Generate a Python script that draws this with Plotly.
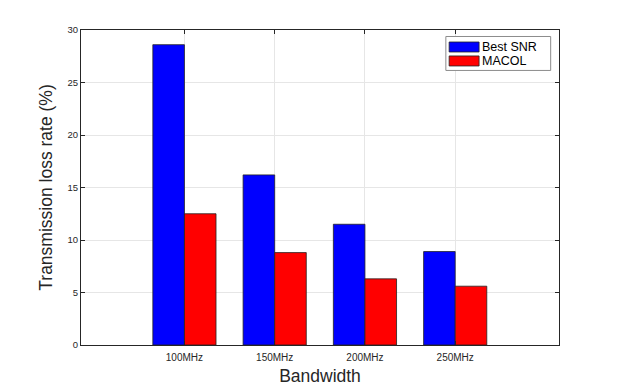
import plotly.graph_objects as go

categories = ["100MHz", "150MHz", "200MHz", "250MHz"]
best_snr = [28.6, 16.2, 11.5, 8.9]
macol = [12.5, 8.8, 6.3, 5.6]
series_names = ["Best SNR", "MACOL"]
series_colors = ["#0000ff", "#ff0000"]
y_ticks = [0, 5, 10, 15, 20, 25, 30]

xpos = list(range(1, len(categories) + 1))
axis_color = "#262626"
grid_color = "#e6e6e6"

fig = go.Figure()
for vals, name, col in zip([best_snr, macol], series_names, series_colors):
    fig.add_trace(go.Bar(x=xpos, y=vals, name=name, showlegend=False,
                         marker=dict(color=col, line=dict(color="#222222", width=0.8))))

# MATLAB-style legend box (wide colour patches)
box = dict(x0=0.7633, x1=0.9826, y0=0.8716, y1=0.9794)
fig.add_shape(type="rect", xref="paper", yref="paper", layer="above",
              fillcolor="white", line=dict(color="#8c8c8c", width=1), **box)
patch_y = [(0.9302, 0.9619), (0.8858, 0.9176)]
for (y0, y1), name, col in zip(patch_y, series_names, series_colors):
    fig.add_shape(type="rect", xref="paper", yref="paper", layer="above",
                  x0=0.7702, x1=0.8328, y0=y0, y1=y1,
                  fillcolor=col, line=dict(color="#222222", width=0.8))
    fig.add_annotation(xref="paper", yref="paper", x=0.8364, y=(y0 + y1) / 2,
                       xanchor="left", yanchor="middle", showarrow=False,
                       borderpad=0, text=name, font=dict(size=12.5, color="black"))

fig.update_layout(
    width=618, height=388,
    margin=dict(l=81, r=59, t=30, b=43),
    paper_bgcolor="white", plot_bgcolor="white",
    barmode="group", bargap=0.3, bargroupgap=0,
    font=dict(family="Liberation Sans, Arial, sans-serif", color=axis_color),
)
fig.update_xaxes(
    range=[-0.146, 5.15], tickvals=xpos, ticktext=categories,
    tickfont=dict(size=10, color=axis_color), ticklabelstandoff=3,
    showgrid=True, gridcolor=grid_color, gridwidth=1,
    showline=True, linecolor=axis_color, linewidth=1, mirror="ticks",
    ticks="inside", ticklen=4, tickcolor=axis_color, automargin=False,
    title=dict(text="Bandwidth", font=dict(size=17.5, color=axis_color), standoff=7),
    zeroline=False,
)
fig.update_yaxes(
    range=[0, 30], tickvals=y_ticks,
    tickfont=dict(size=9.5, color=axis_color),
    showgrid=True, gridcolor=grid_color, gridwidth=1,
    showline=True, linecolor=axis_color, linewidth=1, mirror="ticks",
    ticks="inside", ticklen=4, tickcolor=axis_color, automargin=False,
    title=dict(text="Transmission loss rate (%)", font=dict(size=17.5, color=axis_color), standoff=10),
    zeroline=False,
)

fig.write_html("out.html", config={"displayModeBar": False},
               post_script="document.body.style.margin='0';")
